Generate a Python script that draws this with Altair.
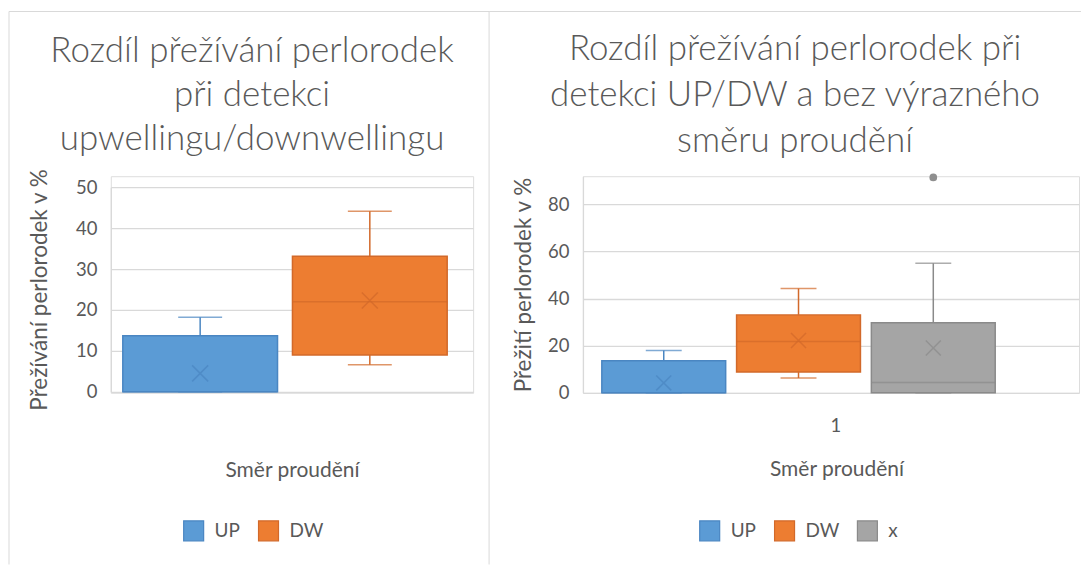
import altair as alt
import pandas as pd

# ---------------- data ----------------
left_series = ["UP", "DW"]
left_low = [0.0, 6.6]
left_q1 = [0.0, 9.0]
left_median = [0.0, 22.0]
left_q3 = [13.7, 33.1]
left_high = [18.2, 44.1]
left_mean = [4.5, 22.3]

right_series = ["UP", "DW", "x"]
right_low = [0.0, 6.3, 0.0]
right_q1 = [0.0, 8.8, 0.0]
right_median = [0.0, 21.8, 4.4]
right_q3 = [13.6, 33.1, 29.8]
right_high = [18.0, 44.3, 55.0]
right_mean = [4.2, 22.2, 19.0]
right_outlier_series = ["x"]
right_outlier_values = [91.5]
right_category = ["1", "1", "1"]

fills = ["#5B9BD5", "#ED7D31", "#A5A5A5"]
darks = ["#4A86C2", "#D2692A", "#8A8A8A"]
TXT = "#595959"
GRID = "#D9D9D9"
FONT = "Lato"

left_title = ["Rozdíl přežívání perlorodek", "při detekci", "upwellingu/downwellingu"]
right_title = ["Rozdíl přežívání perlorodek při", "detekci UP/DW a bez výrazného", "směru proudění"]

LW, RW, H = 363, 497, 217

df_left = pd.DataFrame({
    "series": left_series, "low": left_low, "q1": left_q1, "median": left_median,
    "q3": left_q3, "high": left_high, "mean": left_mean,
})
df_right = pd.DataFrame({
    "cat": right_category, "series": right_series, "low": right_low, "q1": right_q1,
    "median": right_median, "q3": right_q3, "high": right_high, "mean": right_mean,
})
df_out = pd.DataFrame({"cat": ["1"], "series": right_outlier_series, "value": right_outlier_values})
one = pd.DataFrame({"a": [0]})

XSHAPE = "M-1,-1L1,1M-1,1L1,-1"


def make_panel(df, series, ydomain, yrange, yvalues, ytitle, ytitle_pad, xenc_main, xenc,
               box_w, cap_w, mean_size, legend_x, extra=None):
    fs = alt.Scale(domain=series, range=fills[:len(series)])
    ss = alt.Scale(domain=series, range=darks[:len(series)])
    if yrange:
        yscale = alt.Scale(domain=ydomain, range=yrange, nice=False, zero=False)
    else:
        yscale = alt.Scale(domain=ydomain, nice=False, zero=False)
    yaxis = alt.Axis(values=yvalues, title=ytitle, grid=True, gridColor=GRID, gridWidth=1.3,
                     domain=True, domainColor=GRID, domainWidth=1.3, ticks=False,
                     labelFontSize=18.5, labelColor=TXT, labelPadding=14, labelFont=FONT,
                     titleFontSize=22.5, titleColor=TXT, titleFontWeight="normal", titleFont=FONT,
                     titlePadding=ytitle_pad)
    leg = alt.Legend(orient="none", legendX=legend_x, legendY=344, direction="horizontal",
                     title=None, symbolType="square", symbolSize=400, symbolStrokeWidth=1.2,
                     labelFontSize=19, labelColor=TXT, labelFont=FONT, columnPadding=15,
                     labelOffset=10)
    base = alt.Chart(df)

    def Y(field):
        return alt.Y(field, scale=yscale)

    box = base.mark_bar(strokeWidth=1.5).encode(
        y=alt.Y("q1:Q", scale=yscale, axis=yaxis),
        y2="q3:Q",
        fill=alt.Fill("series:N", scale=fs, legend=leg, sort=series),
        stroke=alt.Stroke("series:N", scale=ss, legend=leg, sort=series),
        **xenc_main,
    )
    up = base.mark_rule(strokeWidth=1.5).encode(
        y=Y("q3:Q"), y2="high:Q",
        stroke=alt.Stroke("series:N", scale=ss, legend=None), **xenc)
    lo = base.mark_rule(strokeWidth=1.5).encode(
        y=Y("low:Q"), y2="q1:Q",
        stroke=alt.Stroke("series:N", scale=ss, legend=None), **xenc)
    caph = base.mark_tick(orient="horizontal", size=cap_w, thickness=1.5).encode(
        y=Y("high:Q"), color=alt.Color("series:N", scale=ss, legend=None), **xenc)
    capl = base.mark_tick(orient="horizontal", size=cap_w, thickness=1.5).encode(
        y=Y("low:Q"), color=alt.Color("series:N", scale=ss, legend=None), **xenc)
    med = base.mark_tick(orient="horizontal", size=box_w, thickness=1.5).encode(
        y=Y("median:Q"), color=alt.Color("series:N", scale=ss, legend=None), **xenc)
    mean = base.mark_point(shape=XSHAPE, size=mean_size, filled=False, strokeWidth=1.5).encode(
        y=Y("mean:Q"), color=alt.Color("series:N", scale=ss, legend=None), **xenc)
    layers = [box, up, lo, caph, capl, med, mean]
    if extra is not None:
        layers.append(extra(Y))
    return layers


# ---------------- left panel ----------------
left_xaxis = alt.Axis(labels=False, ticks=False, domain=False, grid=False, title="Směr proudění",
                      titleFontSize=21, titleColor=TXT, titleFontWeight="normal", titleFont=FONT,
                      titlePadding=67)
left_xscale = alt.Scale(domain=left_series, paddingInner=0.088, paddingOuter=0.1118, align=0.316)
left_xenc_main = {"x": alt.X("series:N", sort=left_series, axis=left_xaxis, scale=left_xscale)}
left_xenc = {"x": alt.X("series:N", sort=left_series, scale=left_xscale)}

left_layers = make_panel(df_left, left_series, [0, 50], [216, 11], [0, 10, 20, 30, 40, 50],
                         "Přežívání perlorodek v %", 24, left_xenc_main, left_xenc,
                         155, 44, 256, 72)

lb1 = alt.Chart(one).mark_rule(color=GRID, strokeWidth=1).encode(
    x=alt.value(-102), y=alt.value(-165), y2=alt.value(389))
lb2 = alt.Chart(one).mark_rule(color=GRID, strokeWidth=1).encode(
    x=alt.value(-102), x2=alt.value(379), y=alt.value(-165))

left = alt.layer(*left_layers, lb1, lb2).resolve_scale(
    color="independent", fill="independent", stroke="independent").properties(
    width=LW, height=H,
    title=alt.TitleParams(text=left_title, fontSize=35, font=FONT, fontWeight=300, color=TXT,
                          anchor="middle", frame="group", dx=-40, lineHeight=44, offset=-146))

# ---------------- right panel ----------------
right_xaxis = alt.Axis(labels=True, ticks=False, domain=False, grid=False, title="Směr proudění",
                       labelFontSize=18.5, labelColor=TXT, labelFont=FONT, labelPadding=24,
                       labelOffset=5, labelAngle=0,
                       titleFontSize=21, titleColor=TXT, titleFontWeight="normal", titleFont=FONT,
                       titlePadding=23, titleX=254)
right_xscale = alt.Scale(paddingInner=0, paddingOuter=0)
right_oscale = alt.Scale(domain=right_series, paddingInner=0.081, paddingOuter=0.381, align=0.184)
right_xenc_main = {
    "x": alt.X("cat:N", axis=right_xaxis, scale=right_xscale),
    "xOffset": alt.XOffset("series:N", sort=right_series, scale=right_oscale),
}
right_xenc = {
    "x": alt.X("cat:N", scale=right_xscale),
    "xOffset": alt.XOffset("series:N", sort=right_series, scale=right_oscale),
}


def outliers(Y):
    return alt.Chart(df_out).mark_point(filled=True, size=60, shape="circle", opacity=1).encode(
        y=Y("value:Q"), color=alt.value("#8F8F8F"), **right_xenc)


right_layers = make_panel(df_right, right_series, [0, 92], None, [0, 20, 40, 60, 80],
                          "Přežití perlorodek v %", 12, right_xenc_main, right_xenc,
                          124, 36, 225, 116, extra=outliers)

rb1 = alt.Chart(one).mark_rule(color=GRID, strokeWidth=1).encode(
    x=alt.value(-94), y=alt.value(-165), y2=alt.value(389))
rb2 = alt.Chart(one).mark_rule(color=GRID, strokeWidth=1).encode(
    x=alt.value(-94), x2=alt.value(499), y=alt.value(-165))

right = alt.layer(*right_layers, rb1, rb2).resolve_scale(
    color="independent", fill="independent", stroke="independent").properties(
    width=RW, height=H,
    title=alt.TitleParams(text=right_title, fontSize=35, font=FONT, fontWeight=300, color=TXT,
                          anchor="middle", frame="group", dx=-36, lineHeight=46, offset=-148))

chart = alt.hconcat(left, right, spacing=110, bounds="flush").resolve_scale(
    color="independent", fill="independent", stroke="independent",
    x="independent", y="independent", xOffset="independent").properties(
    padding={"left": 0, "top": 2, "right": 0, "bottom": 0}
).configure_view(stroke=None).configure(font=FONT, background="white")

chart.save("out.html", embed_options={"renderer": "svg", "actions": False})
